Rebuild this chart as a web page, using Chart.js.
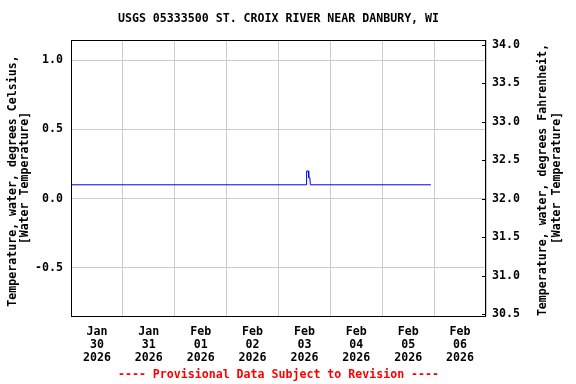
<!DOCTYPE html>
<html><head><meta charset="utf-8">
<script src="https://cdn.jsdelivr.net/npm/chart.js@4"></script>
<style>html,body{margin:0;padding:0;background:#fff}</style>
</head><body><canvas id="c" width="576" height="384"></canvas>
<script>
const title = 'USGS 05333500 ST. CROIX RIVER NEAR DANBURY, WI';
const footnote = '---- Provisional Data Subject to Revision ----';
const leftTitle = ['Temperature, water, degrees Celsius,', '[Water Temperature]'];
const rightTitle = ['Temperature, water, degrees Fahrenheit,', '[Water Temperature]'];
const startDate = '2026-01-30T00:00Z';
const dayLabels = [['Jan','30','2026'],['Jan','31','2026'],['Feb','01','2026'],['Feb','02','2026'],
                   ['Feb','03','2026'],['Feb','04','2026'],['Feb','05','2026'],['Feb','06','2026']];
const times = ['2026-01-30T00:00Z','2026-02-03T12:45Z','2026-02-03T13:00Z','2026-02-03T13:45Z',
               '2026-02-03T14:00Z','2026-02-03T14:30Z','2026-02-03T14:45Z','2026-02-05T22:30Z'];
const tempC = [0.1, 0.1, 0.2, 0.2, 0.15, 0.15, 0.1, 0.1];
const leftTicks = [-0.5, 0.0, 0.5, 1.0];
const rightTicks = [30.5, 31.0, 31.5, 32.0, 32.5, 33.0, 33.5, 34.0];
const cMin = -0.848, cMax = 1.146;

const FONT = '"DejaVu Sans Mono", "Liberation Mono", monospace';
const fnt = {family: FONT, size: 11.6, weight: 'bold', lineHeight: 1.1};
const t0 = Date.parse(startDate);
const pts = times.map((t, i) => ({x: (Date.parse(t) - t0) / 86400000, y: tempC[i]}));

const deco = {
  id: 'deco',
  afterDraw(chart) {
    const ctx = chart.ctx, a = chart.chartArea;
    ctx.save();
    ctx.strokeStyle = '#000'; ctx.lineWidth = 1;
    ctx.strokeRect(Math.round(a.left) + 0.5, Math.round(a.top) + 0.5,
                   Math.round(a.right - a.left) - 1, Math.round(a.bottom - a.top));
    const y2 = chart.scales.y2;
    ctx.beginPath();
    y2.ticks.forEach(t => {
      const py = Math.round(y2.getPixelForValue(t.value)) + 0.5;
      ctx.moveTo(a.right - 4, py); ctx.lineTo(a.right, py);
    });
    ctx.stroke();
    ctx.fillStyle = '#000';
    ctx.font = 'bold 11.6px ' + FONT;
    ctx.textAlign = 'center'; ctx.textBaseline = 'middle';
    ctx.fillText(title, (a.left + a.right) / 2, 19);
    const drawRot = (x, y, s) => {
      ctx.save(); ctx.translate(x, y); ctx.rotate(-Math.PI / 2); ctx.fillText(s, 0, 0); ctx.restore();
    };
    drawRot(12.5, 181, leftTitle[0]);
    drawRot(25, 178, leftTitle[1]);
    drawRot(543, 180, rightTitle[0]);
    drawRot(557, 178, rightTitle[1]);
    ctx.fillStyle = '#ff0000';
    ctx.fillText(footnote, (a.left + a.right) / 2, 375);
    ctx.restore();
  }
};

new Chart(document.getElementById('c'), {
  type: 'line',
  data: {datasets: [{data: pts, borderColor: '#0000ff', borderWidth: 1, pointRadius: 0, tension: 0, fill: false, yAxisID: 'y'}]},
  options: {
    responsive: false, animation: false, devicePixelRatio: 1,
    layout: {padding: {top: 40, left: 0, right: 0, bottom: 0}},
    plugins: {legend: {display: false}, tooltip: {enabled: false}, title: {display: false}},
    scales: {
      x: {
        type: 'linear', min: 0, max: 8,
        afterBuildTicks: s => { s.ticks = []; for (let i = 0; i <= 16; i++) s.ticks.push({value: i / 2}); },
        afterFit: s => { s.height = 68; },
        ticks: {autoSkip: false, maxRotation: 0, minRotation: 0, padding: 10, color: '#000', font: fnt,
                callback: v => (v % 1 === 0.5 ? dayLabels[Math.floor(v)] : '')},
        grid: {drawTicks: false, color: c => (c.tick && c.tick.value % 1 === 0 ? '#cccccc' : 'rgba(0,0,0,0)')},
        border: {display: false}
      },
      y: {
        type: 'linear', position: 'left', min: cMin, max: cMax,
        afterBuildTicks: s => { s.ticks = leftTicks.map(v => ({value: v})); },
        afterFit: s => { s.width = 71; },
        ticks: {padding: 8, color: '#000', font: fnt, callback: v => Number(v).toFixed(1)},
        grid: {drawTicks: false, color: '#cccccc'},
        border: {display: false}
      },
      y2: {
        type: 'linear', position: 'right', min: cMin * 1.8 + 32, max: cMax * 1.8 + 32,
        afterBuildTicks: s => { s.ticks = rightTicks.map(v => ({value: v})); },
        afterFit: s => { s.width = 90; },
        ticks: {padding: 6, color: '#000', font: fnt, callback: v => Number(v).toFixed(1)},
        grid: {drawTicks: false, drawOnChartArea: false},
        border: {display: false}
      }
    }
  },
  plugins: [deco]
});
</script>
</body></html>
